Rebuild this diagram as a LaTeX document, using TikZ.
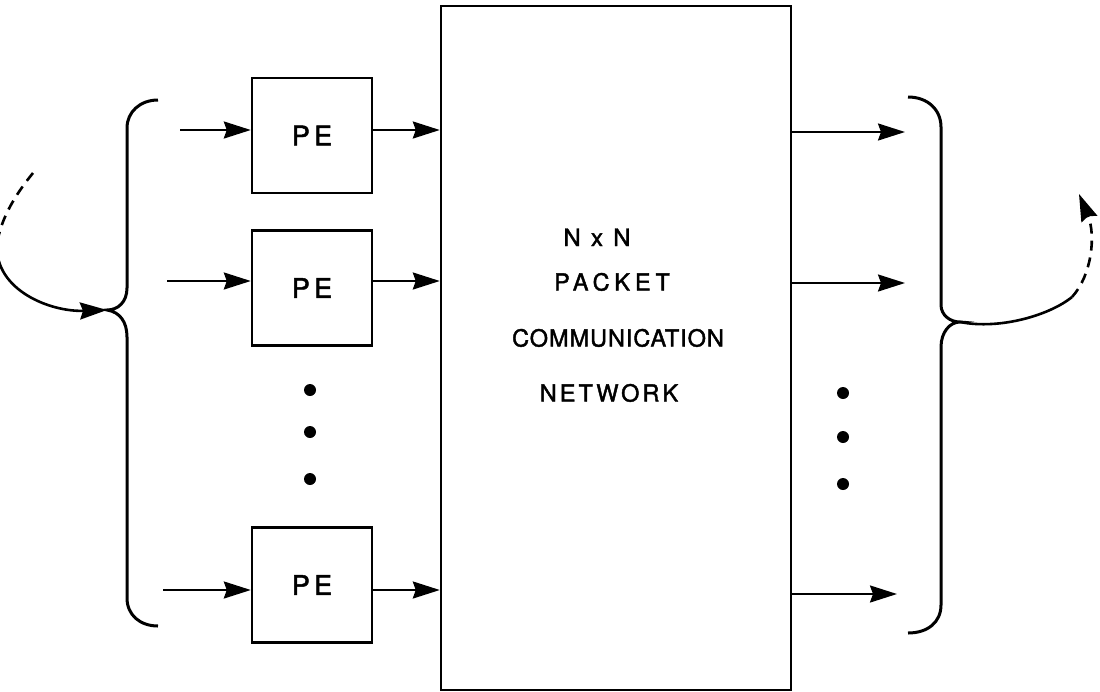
\documentclass[tikz,border=0pt]{standalone}
\usepackage{fontspec}
\setmainfont{TeX Gyre Heros}[FakeBold=1.8]
\usetikzlibrary{arrows.meta}
\tikzset{
  pebox/.style={draw, line width=2.4pt, minimum width=120pt, minimum height=115pt,
    font={\fontsize{27}{30}\selectfont\addfontfeature{LetterSpace=16}}},
  netlabel/.style={anchor=base, inner sep=0pt},
  arr/.style={-{Stealth[length=27pt,width=17pt,inset=3pt]}, line width=2.2pt},
  brace/.style={line width=3pt},
  fb/.style={line width=2.6pt},
  fbdash/.style={line width=2.6pt, dash pattern=on 10pt off 7pt},
}
\begin{document}
\begin{tikzpicture}[x=1pt,y=-1pt]
      \clip (0,0) rectangle (1100,691);
      \node[draw, line width=2.4pt, minimum width=350pt, minimum height=684pt] (net) at (616,348) {};
      \node[pebox] (pe1) at (312,135.5) {PE};
      \node[pebox] (pe2) at (312,288) {PE};
      \node[pebox] (pe3) at (312,585) {PE};
      \node[netlabel, font={\fontsize{24}{28}\selectfont\addfontfeature{LetterSpace=15}}] (nxn) at (597,246) {N x N};
      \node[netlabel, font={\fontsize{23.5}{28}\selectfont\addfontfeature{LetterSpace=21}}] (packet) at (612,290.5) {PACKET};
      \node[netlabel, font={\fontsize{23.5}{28}\selectfont\addfontfeature{LetterSpace=4}}] (comm) at (618,346.5) {COMMUNICATION};
      \node[netlabel, font={\fontsize{23.5}{28}\selectfont\addfontfeature{LetterSpace=13}}] (netw) at (609,401.5) {NETWORK};
      \coordinate (in1) at (180,130);
      \coordinate (in2) at (167,281);
      \coordinate (in3) at (163,590);
      \coordinate (out1) at (905,132);
      \coordinate (out2) at (905,283);
      \coordinate (out3) at (897,594);
      \coordinate (ltip) at (107,310);
      \coordinate (rtip) at (960,322);
      \coordinate (lfree) at (33,173);
      \coordinate (lmid) at (-3,245);
      \coordinate (rmid) at (1072,297);
      \coordinate (rfree) at (1079,194);
      \begin{scope}[arr]
        \draw (in1) -- (in1 -| pe1.west);
        \draw (in2) -- (in2 -| pe2.west);
        \draw (in3) -- (in3 -| pe3.west);
        \draw (in1 -| pe1.east) -- (in1 -| net.west);
        \draw (in2 -| pe2.east) -- (in2 -| net.west);
        \draw (in3 -| pe3.east) -- (in3 -| net.west);
        \draw (out1 -| net.east) -- (out1);
        \draw (out2 -| net.east) -- (out2);
        \draw (out3 -| net.east) -- (out3);
      \end{scope}
      \draw[brace] (158,100) .. controls (140,100) and (127,112) .. (127,128)
        -- (127,288) .. controls (127,302) and (118,310) .. (ltip)
        .. controls (120,312) and (127,322) .. (127,337)
        -- (127,598) .. controls (127,615) and (140,626) .. (158,626);
      \draw[brace] (908,97) .. controls (928,97) and (941,110) .. (941,127)
        -- (941,305) .. controls (941,315) and (950,322) .. (rtip)
        .. controls (950,322) and (941,332) .. (941,347)
        -- (941,605) .. controls (941,622) and (928,633) .. (908,633);
      \draw[fbdash] (lfree) .. controls (15,195) and (0,220) .. (lmid);
      \draw[arr, fb] (lmid) .. controls (-5,290) and (50,312) .. (ltip);
      \draw[fb] (rtip) .. controls (1000,330) and (1050,315) .. (rmid);
      \draw[arr, fbdash] (rmid) .. controls (1092,275) and (1096,235) .. (rfree);
      \foreach \y in {390,432,479}
        \fill (310,\y) circle (6pt);
      \foreach \y in {393,437,484}
        \fill (843,\y) circle (6pt);
    \end{tikzpicture}
\end{document}
